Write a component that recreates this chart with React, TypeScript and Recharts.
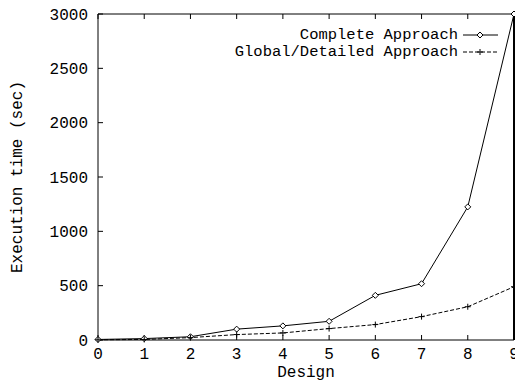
import React from 'react';
import { LineChart, Line, XAxis, YAxis, Legend } from 'recharts';

const designs = [0, 1, 2, 3, 4, 5, 6, 7, 8, 9];
const completeApproach = [5, 13, 30, 100, 130, 172, 411, 518, 1225, 3000];
const globalDetailed = [2, 5, 22, 50, 65, 105, 142, 215, 306, 490];
const xTicks = [0, 1, 2, 3, 4, 5, 6, 7, 8, 9];
const yTicks = [0, 500, 1000, 1500, 2000, 2500, 3000];

const seriesNames = {
  complete: 'Complete Approach',
  global: 'Global/Detailed Approach',
};

const data = designs.map((d, i) => ({
  x: d,
  complete: completeApproach[i],
  global: globalDetailed[i],
}));

const FONT = '"Liberation Mono", "DejaVu Sans Mono", monospace';
const tickStyle = { fontFamily: FONT, fontSize: 16, fill: '#000' };

const Diamond = (props: any) => {
  const { cx, cy } = props;
  if (cx == null || cy == null) return null;
  const s = 3;
  return (
    <path
      d={`M${cx},${cy - s}L${cx + s},${cy}L${cx},${cy + s}L${cx - s},${cy}Z`}
      fill="#fff"
      stroke="#000"
      strokeWidth={1}
    />
  );
};

const Plus = (props: any) => {
  const { cx, cy } = props;
  if (cx == null || cy == null) return null;
  const s = 3;
  return (
    <path
      d={`M${cx - s},${cy}H${cx + s}M${cx},${cy - s}V${cy + s}`}
      fill="none"
      stroke="#000"
      strokeWidth={1}
    />
  );
};

const renderLegend = (props: any) => {
  const { payload } = props;
  const rows = (payload || []) as any[];
  return (
    <svg width={515} height={70} style={{ display: 'block' }}>
      {rows.map((entry, i) => {
        const y = 35 + i * 17;
        const key = entry.dataKey as string;
        const dashed = key === 'global';
        return (
          <g key={key}>
            <text
              x={458}
              y={y}
              textAnchor="end"
              dominantBaseline="central"
              style={{ fontFamily: FONT, fontSize: 15.5, fill: '#000' }}
            >
              {entry.value}
            </text>
            <line
              x1={463}
              x2={498}
              y1={y}
              y2={y}
              stroke="#000"
              strokeWidth={1}
              strokeDasharray={dashed ? '4 2' : undefined}
            />
            {dashed ? <Plus cx={480} cy={y} /> : <Diamond cx={480} cy={y} />}
          </g>
        );
      })}
    </svg>
  );
};

export default function App() {
  return (
    <div style={{ position: 'absolute', left: 0, top: 0, width: 515, height: 384, background: '#fff' }}>
      <LineChart
        width={515}
        height={384}
        data={data}
        margin={{ top: 13, right: 0, bottom: 0, left: 0 }}
      >
        <XAxis
          dataKey="x"
          type="number"
          domain={[0, 9]}
          ticks={xTicks}
          interval={0}
          height={44}
          tickSize={-5}
          tickMargin={13}
          axisLine={{ stroke: '#000' }}
          tickLine={{ stroke: '#000' }}
          tick={tickStyle}
          label={{ value: 'Design', position: 'insideBottom', offset: 7, style: { fontFamily: FONT, fontSize: 16, fill: '#000' } }}
        />
        <XAxis
          xAxisId="top"
          orientation="top"
          type="number"
          dataKey="x"
          domain={[0, 9]}
          ticks={xTicks}
          interval={0}
          height={1}
          tickSize={-5}
          tickFormatter={() => ''}
          axisLine={{ stroke: '#000' }}
          tickLine={{ stroke: '#000' }}
        />
        <YAxis
          type="number"
          domain={[0, 3000]}
          ticks={yTicks}
          interval={0}
          width={98}
          tickSize={-5}
          tickMargin={15}
          axisLine={{ stroke: '#000' }}
          tickLine={{ stroke: '#000' }}
          tick={tickStyle}
          label={{
            value: 'Execution time (sec)',
            angle: -90,
            position: 'insideLeft',
            offset: 0,
            dx: 16,
            style: { fontFamily: FONT, fontSize: 16, fill: '#000', textAnchor: 'middle' },
          }}
        />
        <YAxis
          yAxisId="right"
          orientation="right"
          type="number"
          domain={[0, 3000]}
          ticks={yTicks}
          interval={0}
          width={1}
          tickSize={-5}
          tickFormatter={() => ''}
          axisLine={{ stroke: '#000', strokeWidth: 2 }}
          tickLine={{ stroke: '#000' }}
        />
        <Legend
          layout="horizontal"
          align="center"
          verticalAlign="middle"
          content={renderLegend}
          wrapperStyle={{ position: 'absolute', left: 0, top: 0, width: 515, height: 70 }}
        />
        <Line
          type="linear"
          dataKey="complete"
          name={seriesNames.complete}
          stroke="#000"
          strokeWidth={1}
          dot={<Diamond />}
          isAnimationActive={false}
        />
        <Line
          type="linear"
          dataKey="global"
          name={seriesNames.global}
          stroke="#000"
          strokeWidth={1}
          strokeDasharray="4 2"
          dot={<Plus />}
          isAnimationActive={false}
        />
      </LineChart>
    </div>
  );
}
